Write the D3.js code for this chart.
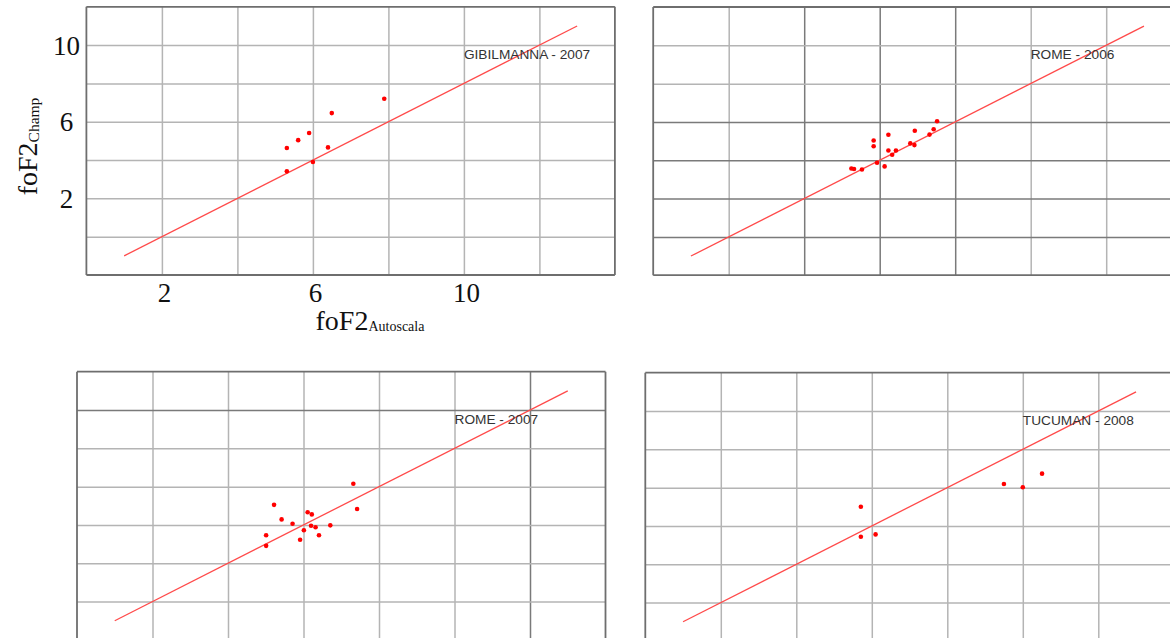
<!DOCTYPE html>
<html>
<head>
<meta charset="utf-8">
<script src="https://cdn.jsdelivr.net/npm/d3@7"></script>
<style>
  html, body { margin: 0; padding: 0; background: #fff; }
  svg { display: block; }
</style>
</head>
<body>
<svg id="chart" width="1170" height="638"></svg>
<script>
// ---------------- DATA ----------------
// shared axis grid (MHz)
const gridX = [2, 4, 6, 8, 10, 12];
const gridY = [0, 2, 4, 6, 8, 10];
const tickLabelsX = [2, 6, 10];
const tickLabelsY = [2, 6, 10];
// reference line end points (same in all panels)
const refLineX = [1, 13];
const refLineY = [-1, 11];

const stationTitles = ["GIBILMANNA - 2007", "ROME - 2006", "ROME - 2007", "TUCUMAN - 2008"];

// GIBILMANNA 2007
const gibilmanna2007X = [5.31, 5.61, 5.90, 6.50, 7.89, 6.40, 6.00, 5.31];
const gibilmanna2007Y = [4.63, 5.04, 5.41, 6.45, 7.20, 4.66, 3.90, 3.41];
// ROME 2006
const rome2006X = [5.25, 5.32, 5.53, 5.84, 5.84, 5.93, 6.13, 6.23, 6.23, 6.33, 6.43, 6.81, 6.92, 6.93, 7.32, 7.43, 7.52];
const rome2006Y = [3.57, 3.54, 3.52, 5.03, 4.73, 3.87, 3.68, 5.33, 4.51, 4.29, 4.51, 4.88, 4.79, 5.54, 5.34, 5.62, 6.04];
// ROME 2007
const rome2007X = [7.32, 5.22, 7.42, 5.42, 6.11, 6.22, 5.71, 6.71, 6.20, 6.32, 6.01, 5.01, 6.41, 5.91, 5.01];
const rome2007Y = [6.15, 5.05, 4.83, 4.29, 4.66, 4.55, 4.06, 3.98, 3.96, 3.88, 3.72, 3.46, 3.46, 3.23, 2.91];
// TUCUMAN 2008
const tucuman2008X = [5.71, 5.71, 6.10, 9.50, 10.00, 10.51];
const tucuman2008Y = [5.00, 3.44, 3.56, 6.19, 6.02, 6.73];

// ---------------- LAYOUT / STYLE ----------------
const PW = 528.5, PH = 268.2;
const panels = [
  { left: 86.4, top: 6.8, xs: gibilmanna2007X, ys: gibilmanna2007Y, title: stationTitles[0],
    frame: ["left", "top", "right", "bottom"], darkX: [], darkY: [], labels: true },
  { left: 653.2, top: 7.0, xs: rome2006X, ys: rome2006Y, title: stationTitles[1],
    frame: ["left", "top", "bottom"], darkX: [4, 6, 8], darkY: [0, 2, 4, 6], labels: false },
  { left: 77.0, top: 371.7, xs: rome2007X, ys: rome2007Y, title: stationTitles[2],
    frame: ["left", "top", "right"], darkX: [12], darkY: [10], labels: false },
  { left: 645.3, top: 372.7, xs: tucuman2008X, ys: tucuman2008Y, title: stationTitles[3],
    frame: ["left", "top"], darkX: [], darkY: [], labels: false }
];

const svg = d3.select("#chart");

panels.forEach(p => {
  const x = d3.scaleLinear().domain([0, 14]).range([p.left, p.left + PW]);
  const y = d3.scaleLinear().domain([-2, 12]).range([p.top + PH, p.top]);
  const g = svg.append("g");

  // vertical gridlines
  const gx = g.append("g")
    .attr("transform", `translate(0,${p.top + PH})`)
    .call(d3.axisBottom(x).tickValues(gridX).tickSize(-PH).tickFormat(""));
  gx.select(".domain").remove();
  gx.selectAll(".tick line")
    .attr("stroke", d => p.darkX.includes(d) ? "#7a7a7a" : "#b4b4b4")
    .attr("stroke-width", 1.5);

  // horizontal gridlines
  const gy = g.append("g")
    .attr("transform", `translate(${p.left},0)`)
    .call(d3.axisLeft(y).tickValues(gridY).tickSize(-PW).tickFormat(""));
  gy.select(".domain").remove();
  gy.selectAll(".tick line")
    .attr("stroke", d => p.darkY.includes(d) ? "#7a7a7a" : "#b4b4b4")
    .attr("stroke-width", 1.5);

  // frame
  const [x0, x1] = x.range();
  const [y0, y1] = [y(-2), y(12)];
  const edges = {
    left: [x0, y0, x0, y1], right: [x1, y0, x1, y1],
    top: [x0, y1, x1, y1], bottom: [x0, y0, x1, y0]
  };
  p.frame.forEach(k => {
    const e = edges[k];
    g.append("line").attr("x1", e[0]).attr("y1", e[1]).attr("x2", e[2]).attr("y2", e[3])
      .attr("stroke", "#6e6e6e").attr("stroke-width", 1.8);
  });

  // reference line
  g.append("line")
    .attr("x1", x(refLineX[0])).attr("y1", y(refLineY[0]))
    .attr("x2", x(refLineX[1])).attr("y2", y(refLineY[1]))
    .attr("stroke", "#ff4a4a").attr("stroke-width", 1.3);

  // points
  g.selectAll("circle.pt").data(p.xs.map((v, i) => [v, p.ys[i]])).join("circle")
    .attr("class", "pt")
    .attr("cx", d => x(d[0])).attr("cy", d => y(d[1]))
    .attr("r", 2.3).attr("fill", "#ff0000");

  // station title
  g.append("text")
    .attr("x", x(10)).attr("y", y(10) + 13.5)
    .attr("font-family", "Liberation Sans, Arial, sans-serif")
    .attr("font-size", 13.7)
    .attr("fill", "#333")
    .text(p.title);

  if (p.labels) {
    // x tick labels
    const ax = g.append("g")
      .attr("transform", `translate(0,${p.top + PH})`)
      .call(d3.axisBottom(x).tickValues(tickLabelsX).tickSize(0).tickFormat(d3.format("d")));
    ax.select(".domain").remove();
    ax.selectAll("text")
      .attr("font-family", "Liberation Serif, Times New Roman, serif")
      .attr("font-size", 27).attr("fill", "#111")
      .attr("dy", null).attr("y", 27).attr("dx", 2);
    // y tick labels
    const ay = g.append("g")
      .attr("transform", `translate(${p.left},0)`)
      .call(d3.axisLeft(y).tickValues(tickLabelsY).tickSize(0).tickFormat(d3.format("d")));
    ay.select(".domain").remove();
    ay.selectAll("text")
      .attr("font-family", "Liberation Serif, Times New Roman, serif")
      .attr("font-size", 27).attr("fill", "#111")
      .attr("text-anchor", "middle").attr("x", -20).attr("dy", "0.34em");

    // x title
    const xt = g.append("text")
      .attr("x", 370).attr("y", 330)
      .attr("text-anchor", "middle")
      .attr("font-family", "Liberation Serif, Times New Roman, serif")
      .attr("fill", "#111");
    xt.append("tspan").attr("font-size", 28).text("foF2");
    xt.append("tspan").attr("font-size", 14).attr("dy", 1).text("Autoscala");

    // y title
    const yt = g.append("text")
      .attr("transform", "translate(37,146.5) rotate(-90)")
      .attr("text-anchor", "middle")
      .attr("font-family", "Liberation Serif, Times New Roman, serif")
      .attr("fill", "#111");
    yt.append("tspan").attr("font-size", 28).text("foF2");
    yt.append("tspan").attr("font-size", 15.5).attr("dy", 2).text("Champ");
  }
});
</script>
</body>
</html>
